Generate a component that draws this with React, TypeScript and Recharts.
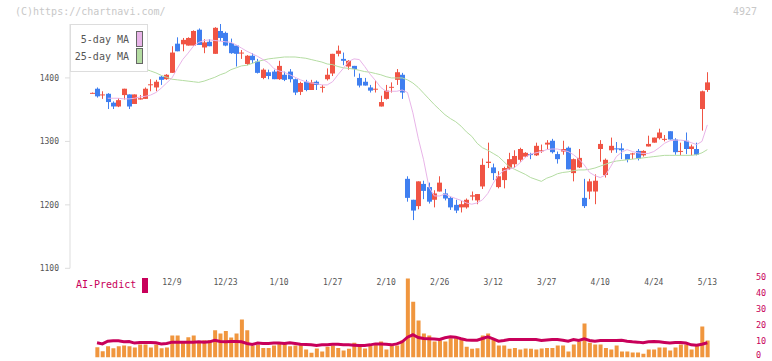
import React from 'react';
import { ComposedChart, Bar, Line, XAxis, YAxis, Legend } from 'recharts';

// ---- price data (one entry per trading day, index 0..115) ----
const openP = [
  1376, 1383, 1373, 1375, 1361, 1355, 1373, 1374, 1359, 1366,
  1367, 1389, 1385, 1402, 1398, 1408, 1454, 1453, 1451, 1451,
  1476, 1448, 1457, 1438, 1474, 1471, 1455, 1451, 1439, 1422,
  1435, 1426, 1400, 1409, 1410, 1398, 1405, 1410, 1398, 1378,
  1394, 1381, 1394, 1385, 1398, 1407, 1438, 1430, 1418, 1419,
  1400, 1394, 1385, 1382, 1355, 1367, 1385, 1397, 1405, 1241,
  1208, 1198, 1233, 1228, 1208, 1221, 1218, 1211, 1200, 1196,
  1196, 1213, 1207, 1229, 1266, 1259, 1228, 1239, 1257, 1264,
  1271, 1276, 1280, 1278, 1285, 1295, 1301, 1280, 1284, 1290,
  1250, 1259, 1211, 1221, 1221, 1288, 1247, 1286, 1289, 1289,
  1280, 1280, 1285, 1278, 1292, 1298, 1305, 1303, 1316, 1303,
  1284, 1301, 1288, 1288, 1351, 1381,
];
const highP = [
  1377, 1385, 1379, 1376, 1363, 1368, 1383, 1374, 1374, 1373,
  1385, 1398, 1397, 1403, 1406, 1450, 1464, 1463, 1464, 1475,
  1478, 1461, 1461, 1480, 1485, 1473, 1462, 1451, 1444, 1436,
  1439, 1430, 1415, 1413, 1413, 1427, 1410, 1414, 1399, 1394,
  1397, 1397, 1396, 1389, 1415, 1438, 1451, 1440, 1428, 1419,
  1407, 1400, 1389, 1396, 1372, 1389, 1393, 1414, 1408, 1245,
  1208, 1237, 1238, 1235, 1223, 1245, 1225, 1213, 1208, 1206,
  1210, 1221, 1217, 1273, 1298, 1265, 1253, 1260, 1282, 1286,
  1290, 1283, 1282, 1298, 1295, 1302, 1304, 1284, 1301, 1292,
  1273, 1288, 1241, 1241, 1248, 1302, 1273, 1306, 1299, 1297,
  1280, 1282, 1288, 1286, 1309, 1306, 1320, 1310, 1316, 1305,
  1298, 1314, 1295, 1298, 1380, 1409,
];
const lowP = [
  1376, 1369, 1367, 1351, 1351, 1354, 1366, 1351, 1359, 1366,
  1367, 1379, 1379, 1389, 1397, 1408, 1442, 1442, 1451, 1451,
  1452, 1439, 1450, 1438, 1458, 1450, 1438, 1418, 1430, 1420,
  1423, 1407, 1398, 1398, 1398, 1397, 1395, 1393, 1373, 1373,
  1379, 1381, 1381, 1377, 1396, 1403, 1434, 1420, 1413, 1402,
  1385, 1388, 1377, 1377, 1355, 1366, 1377, 1389, 1367, 1205,
  1176, 1193, 1209, 1202, 1196, 1221, 1207, 1192, 1187, 1188,
  1194, 1207, 1201, 1225, 1258, 1239, 1226, 1226, 1255, 1258,
  1268, 1275, 1272, 1277, 1282, 1287, 1281, 1265, 1279, 1256,
  1237, 1258, 1195, 1209, 1201, 1268, 1243, 1282, 1282, 1272,
  1267, 1272, 1270, 1276, 1292, 1298, 1303, 1300, 1303, 1279,
  1278, 1280, 1278, 1278, 1317, 1378,
];
const closeP = [
  1376.5, 1371, 1374, 1362, 1355, 1365, 1383, 1355, 1374, 1368,
  1383, 1390, 1394, 1397, 1405, 1440, 1442, 1460, 1463, 1474,
  1452, 1456, 1450, 1479, 1463, 1451, 1439, 1438, 1440, 1435,
  1428, 1408, 1413, 1403, 1398, 1419, 1397, 1398, 1377, 1392,
  1381, 1393, 1389, 1386, 1405, 1438, 1443, 1427, 1427, 1414,
  1388, 1388, 1380, 1383, 1362, 1380, 1386, 1409, 1377, 1211,
  1191, 1237, 1222, 1205, 1218, 1235, 1210, 1196, 1191, 1201,
  1208, 1215, 1217, 1263, 1268, 1250, 1245, 1258, 1272, 1277,
  1288, 1282, 1279, 1293, 1286, 1298, 1283, 1272, 1288, 1256,
  1272, 1274, 1198, 1237, 1238, 1296, 1271, 1293, 1288, 1286,
  1271, 1281, 1273, 1285, 1296, 1306, 1314, 1304, 1303, 1283,
  1285, 1288, 1292, 1279, 1379, 1393,
];
const ma5 = [
  null, null, null, 1368, 1368, 1368, 1367, 1367, 1368, 1370,
  1371, 1373, 1377, 1384, 1392, 1400, 1415, 1429, 1439, 1450,
  1456, 1459, 1460, 1459, 1458, 1457, 1456, 1452, 1447, 1442,
  1438, 1434, 1429, 1424, 1415, 1411, 1409, 1405, 1401, 1397,
  1394, 1392, 1391, 1389, 1389, 1394, 1405, 1415, 1426, 1430,
  1429, 1418, 1406, 1396, 1385, 1379, 1379, 1379, 1381, 1377,
  1345, 1305, 1271, 1228, 1214, 1214, 1217, 1213, 1210, 1207,
  1203, 1201, 1203, 1208, 1218, 1234, 1247, 1254, 1256, 1259,
  1266, 1275, 1280, 1282, 1284, 1287, 1288, 1288, 1286, 1284,
  1279, 1272, 1263, 1251, 1246, 1243, 1247, 1261, 1276, 1283,
  1287, 1284, 1282, 1281, 1281, 1284, 1290, 1297, 1301, 1302,
  1302, 1301, 1298, 1295, 1300, 1326,
];
const ma25 = [
  1450, 1446, 1443, 1439, 1436, 1432, 1429, 1425, 1422, 1418,
  1414, 1411, 1408, 1404, 1401, 1398, 1397, 1396, 1395, 1394,
  1393, 1395, 1398, 1401, 1405, 1408, 1413, 1416, 1419, 1420,
  1423, 1426, 1428, 1430, 1431, 1432, 1433, 1433, 1433, 1432,
  1431, 1429, 1427, 1425, 1422, 1421, 1418, 1416, 1415, 1414,
  1412, 1410, 1409, 1407, 1405, 1402, 1400, 1400, 1400, 1397,
  1392, 1385, 1376, 1367, 1358, 1350, 1342, 1336, 1331, 1324,
  1315, 1308, 1297, 1290, 1286, 1281, 1276, 1268, 1260, 1256,
  1252, 1248, 1243, 1240, 1237, 1242, 1245, 1249, 1251, 1252,
  1254, 1255, 1255, 1256, 1258, 1261, 1264, 1267, 1269, 1270,
  1271, 1272, 1273, 1274, 1275, 1276, 1277, 1278, 1278, 1278,
  1278, 1278, 1278, 1279, 1282, 1287,
];

// ---- lower panel (days 1..115) ----
const volume = [
  6.4, 3.9, 7.1, 5.8, 7.1, 7.5, 7.1, 6.2, 8.1, 8.1,
  6.2, 8.1, 5.8, 6.2, 13.75, 13.75, 10, 12.7, 13.75, 10.2,
  10.8, 10.8, 17.1, 15, 16.5, 12.5, 15, 23.75, 17.1, 7.3,
  7.8, 6, 6, 7.5, 9.2, 8.75, 7.1, 7.5, 8.1, 5,
  2.9, 5.6, 3.75, 6.7, 7.5, 6, 4.4, 5.4, 9.2, 7.1,
  5.6, 7.5, 8.75, 10, 5, 7.5, 7.5, 10.8, 49.4, 34.8,
  23.1, 15, 13.75, 10, 10.8, 10, 12.1, 12.1, 11.25, 6.7,
  5.4, 5.8, 13.75, 15, 11.25, 7.5, 7.5, 5.5, 6, 5,
  5.6, 5.4, 5, 5.6, 6, 6, 7.5, 7.5, 3.75, 8.1,
  10, 21.25, 9.2, 8.1, 8.1, 6, 5, 7.5, 3.75, 3.75,
  3.1, 3.1, 2.3, 5, 5, 6.25, 6.25, 4.4, 6.25, 8.1,
  8.1, 5, 7.5, 19.4, 10.6,
];
const aiPredict = [
  9.2, 8.5, 10.2, 10.4, 10.4, 9.8, 10, 9, 9.4, 9.4,
  9.4, 9.2, 8.5, 8.75, 9.6, 9.6, 9.6, 9.6, 9.6, 9.8,
  9.6, 9.8, 10.8, 10, 9.8, 10, 10, 9.8, 8.75, 8.2,
  9, 8.75, 8.75, 9, 9, 8.75, 9.2, 8.75, 8.3, 8.1,
  7.9, 7.5, 7.9, 7.9, 8.3, 8.3, 7.9, 7.9, 7.7, 7.5,
  7.5, 7.9, 8.5, 8.5, 8.3, 7.9, 8.5, 9.8, 12.7, 14.2,
  12.5, 11.9, 11.7, 11.5, 11.25, 12.3, 12.9, 12.7, 11.7, 11,
  10.8, 10.8, 11.9, 12.9, 11.7, 10.2, 10.6, 11.25, 11.25, 11.25,
  11.25, 11.25, 11.25, 10.6, 11, 11.25, 11.25, 10.8, 10.2, 11.25,
  10.6, 11.7, 10.6, 10.2, 10.6, 10.6, 10.6, 10.6, 10.8, 10.2,
  9.8, 9.6, 9.2, 9.8, 10, 9.8, 9.4, 9, 9.4, 9.4,
  9, 7.9, 7.7, 8.3, 9.2,
];

const dateTickIdx = [15, 25, 35, 45, 55, 65, 75, 85, 95, 105, 115];
const dateTickLabels = ['12/9', '12/23', '1/10', '1/27', '2/10', '2/26', '3/12', '3/27', '4/10', '4/24', '5/13'];
const priceTicks = [1100, 1200, 1300, 1400];
const volTicks = [0, 10, 20, 30, 40, 50];
const gridTicks = [0, 1, 2, 3, 4, 5, 6, 7, 8, 9, 10, 11];

const UP = '#f05444';
const DOWN = '#3f7ff0';
const MAG = '#c8005a';
const ORANGE = '#f0963e';
const PINK = '#e8b4e8';
const GREEN = '#b4dca2';
const AXIS = '#dddddd';
const MONO = '"DejaVu Sans Mono", "Liberation Mono", monospace';

const priceData = openP.map((o, i) => ({
  idx: i,
  o,
  h: highP[i],
  l: lowP[i],
  c: closeP[i],
  range: [lowP[i], highP[i]],
  ma5: ma5[i],
  ma25: ma25[i],
}));

const volData = openP.map((_, i) => ({
  idx: i,
  vol: i === 0 ? null : volume[i - 1],
  ai: i === 0 ? null : aiPredict[i - 1],
}));

const Candle = (props: any) => {
  const { x, y, width, height, payload } = props;
  if (x == null || y == null || !payload) return null;
  const top = Math.min(y, y + height);
  const bot = Math.max(y, y + height);
  const { o, h, l, c } = payload;
  const span = h - l;
  const toY = (p: number) => (span > 0 ? top + ((h - p) / span) * (bot - top) : top);
  const color = c >= o ? UP : DOWN;
  const cx = Math.round(x + width / 2) + 0.5;
  const bTop = toY(Math.max(o, c));
  const bBot = toY(Math.min(o, c));
  return (
    <g>
      <line x1={cx} x2={cx} y1={top} y2={Math.max(bot, top + 1)} stroke={color} strokeWidth={1} />
      <rect x={cx - 2.5} y={bTop} width={5} height={Math.max(1, bBot - bTop)} fill={color} />
    </g>
  );
};

const VolTick = (props: any) => {
  const { x, y, payload } = props;
  const v = payload?.value;
  const shift = v === 0 ? -2 : 0;
  return (
    <text x={x} y={y + 2.9 + shift} textAnchor="start" fontSize={8.5} fill={MAG} fontFamily={MONO}>
      {v}
    </text>
  );
};

const MainLegend = () => (
  <div
    style={{
      position: 'relative',
      width: 78,
      height: 48,
      boxSizing: 'border-box',
      background: '#fff',
      border: '1px solid #dddddd',
      fontFamily: MONO,
      fontSize: 10,
      color: '#555',
    }}
  >
    <div style={{ position: 'absolute', right: 18, top: 9, lineHeight: '12px', whiteSpace: 'nowrap' }}>5-day MA</div>
    <div style={{ position: 'absolute', right: 18, top: 26, lineHeight: '12px', whiteSpace: 'nowrap' }}>25-day MA</div>
    <div style={{ position: 'absolute', left: 65, top: 6, width: 7, height: 16, boxSizing: 'border-box', border: '1px solid #666', background: PINK }} />
    <div style={{ position: 'absolute', left: 65, top: 23, width: 7, height: 16, boxSizing: 'border-box', border: '1px solid #666', background: GREEN }} />
  </div>
);

const AiLegend = () => (
  <div style={{ display: 'flex', alignItems: 'center', height: 16, fontFamily: MONO, fontSize: 10, color: MAG }}>
    <span style={{ lineHeight: '16px', whiteSpace: 'nowrap' }}>AI-Predict</span>
    <span style={{ display: 'inline-block', width: 6, height: 15, background: MAG, marginLeft: 6 }} />
  </div>
);

export default function App() {
  return (
    <div style={{ position: 'absolute', left: 0, top: 0, width: 772, height: 361, background: '#fff', overflow: 'hidden' }}>
      <div style={{ position: 'absolute', left: 15, top: 6, fontFamily: MONO, fontSize: 10, lineHeight: '12px', color: '#c8c8c8' }}>
        (C)https://chartnavi.com/
      </div>
      <div style={{ position: 'absolute', left: 733, top: 6, fontFamily: MONO, fontSize: 10, lineHeight: '12px', color: '#c8c8c8' }}>
        4927
      </div>

      <div style={{ position: 'absolute', left: 0, top: 0 }}>
        <ComposedChart width={772} height={275} data={priceData} margin={{ top: 24, right: 20, bottom: 0.7, left: 0 }}>
          <XAxis dataKey="idx" type="category" hide padding={{ left: 19, right: 42 }} />
          <XAxis
            xAxisId="grid"
            dataKey="idx"
            type="number"
            domain={[0, 11]}
            ticks={gridTicks}
            allowDataOverflow
            tick={false}
            tickSize={5}
            height={6}
            axisLine={{ stroke: AXIS }}
            tickLine={{ stroke: AXIS }}
          />
          <YAxis
            domain={[1100, 1485]}
            ticks={priceTicks}
            interval={0}
            allowDataOverflow
            width={70}
            tickSize={5}
            tickMargin={6}
            axisLine={{ stroke: AXIS }}
            tickLine={{ stroke: AXIS }}
            tick={{ fontSize: 8, fill: '#555', fontFamily: MONO }}
          />
          <Bar dataKey="range" shape={Candle} barSize={5} isAnimationActive={false} />
          <Line dataKey="ma25" stroke={GREEN} strokeWidth={1} dot={false} activeDot={false} isAnimationActive={false} />
          <Line dataKey="ma5" stroke={PINK} strokeWidth={1} dot={false} activeDot={false} isAnimationActive={false} />
          <Legend
            layout="vertical"
            align="center"
            verticalAlign="middle"
            wrapperStyle={{ position: 'absolute', left: 70, top: 24, width: 78, height: 48 }}
            content={() => <MainLegend />}
          />
        </ComposedChart>
      </div>

      <div style={{ position: 'absolute', left: 0, top: 270 }}>
        <ComposedChart width={772} height={91} data={volData} margin={{ top: 1.7, right: 0, bottom: 3.5, left: 70 }}>
          <XAxis
            dataKey="idx"
            type="category"
            orientation="top"
            mirror
            padding={{ left: 19, right: 42 }}
            axisLine={false}
            tickLine={false}
            tickSize={0}
            tickMargin={7.6}
            ticks={dateTickIdx}
            interval={0}
            tickFormatter={(v: any) => dateTickLabels[dateTickIdx.indexOf(Number(v))] ?? ''}
            tick={{ fontSize: 8, fill: '#555', fontFamily: MONO }}
          />
          <YAxis
            orientation="right"
            domain={[0, 53.6]}
            ticks={volTicks}
            interval={0}
            allowDataOverflow
            width={20}
            axisLine={false}
            tickLine={false}
            tickSize={0}
            tickMargin={4}
            tick={VolTick}
          />
          <Bar dataKey="vol" fill={ORANGE} barSize={4} isAnimationActive={false} />
          <Line dataKey="ai" stroke={MAG} strokeWidth={3} dot={false} activeDot={false} isAnimationActive={false} />
          <Legend
            layout="vertical"
            align="center"
            verticalAlign="middle"
            wrapperStyle={{ position: 'absolute', left: 76, top: 7, width: 80, height: 16 }}
            content={() => <AiLegend />}
          />
        </ComposedChart>
      </div>
    </div>
  );
}
